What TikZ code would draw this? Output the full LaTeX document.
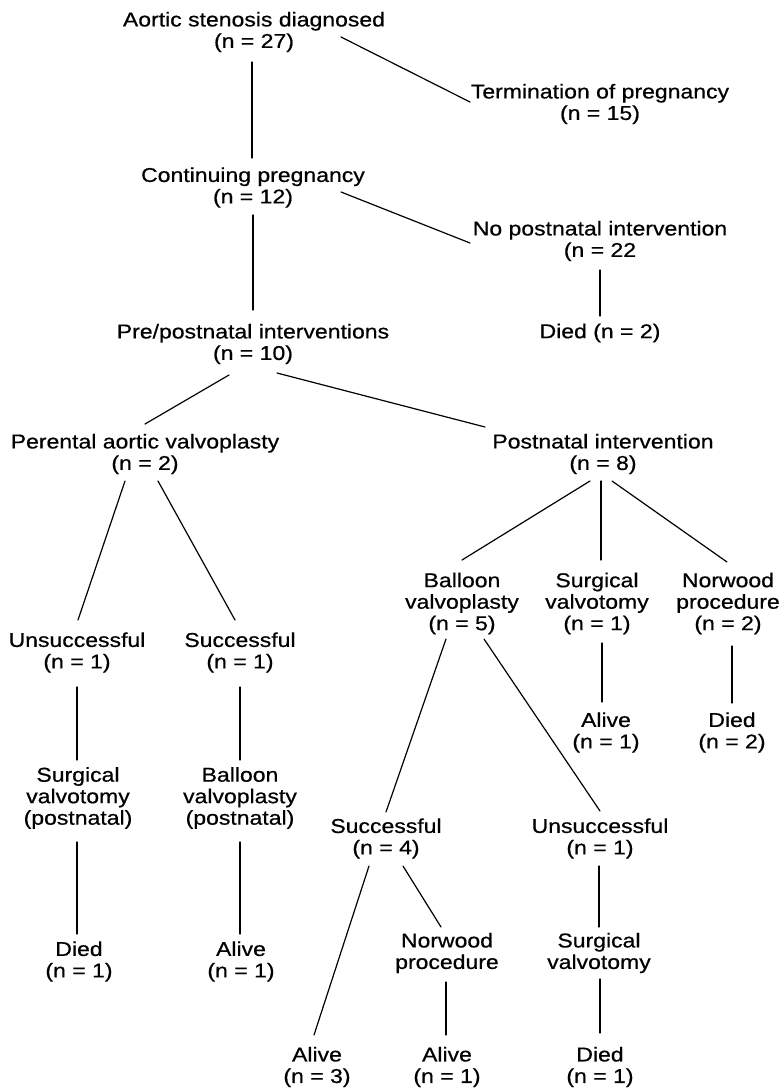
\documentclass[tikz,border=0pt]{standalone}
\usepackage{fontspec}
\newfontfamily\labfont{Liberation Sans}[FakeStretch=1.15,FakeBold=0.6]
\begin{document}
\begin{tikzpicture}[x=1pt,y=-1pt,
  lab/.style={align=center,inner sep=0pt,font=\labfont\fontsize{20}{21.5}\selectfont},
  conn/.style={line width=1.2pt,line cap=round}]
\useasboundingbox (0,0) rectangle (781,1088);
% nodes
\node[lab] (A) at (254,32) {Aortic stenosis diagnosed\\(n = 27)};
\node[lab] (T) at (600,104) {Termination of pregnancy\\(n = 15)};
\node[lab] (C) at (253,187.5) {Continuing pregnancy\\(n = 12)};
\node[lab] (N) at (600,241) {No postnatal intervention\\(n = 22};
\node[lab] (D) at (600,333) {Died (n = 2)};
\node[lab] (P) at (253,344) {Pre/postnatal interventions\\(n = 10)};
\node[lab] (PAV) at (145,454) {Perental aortic valvoplasty\\(n = 2)};
\node[lab] (PI) at (603,454) {Postnatal intervention\\(n = 8)};
\node[lab] (U1) at (77,652.5) {Unsuccessful\\(n = 1)};
\node[lab] (S1) at (240,652.5) {Successful\\(n = 1)};
\node[lab] (BV) at (462,603.5) {Balloon\\valvoplasty\\(n = 5)};
\node[lab] (SV) at (597,603.5) {Surgical\\valvotomy\\(n = 1)};
\node[lab] (NP) at (728,603.5) {Norwood\\procedure\\(n = 2)};
\node[lab] (A1) at (606,732.5) {Alive\\(n = 1)};
\node[lab] (D2) at (732,732.5) {Died\\(n = 2)};
\node[lab] (SVp) at (78,798) {Surgical\\valvotomy\\(postnatal)};
\node[lab] (BVp) at (240,798) {Balloon\\valvoplasty\\(postnatal)};
\node[lab] (S4) at (386,838.5) {Successful\\(n = 4)};
\node[lab] (U4) at (600,838.5) {Unsuccessful\\(n = 1)};
\node[lab] (Di1) at (79,961.5) {Died\\(n = 1)};
\node[lab] (Al1) at (241,961.5) {Alive\\(n = 1)};
\node[lab] (NP2) at (447,953) {Norwood\\procedure};
\node[lab] (SV2) at (599,953) {Surgical\\valvotomy};
\node[lab] (Al3) at (317,1067) {Alive\\(n = 3)};
\node[lab] (Al4) at (447,1067) {Alive\\(n = 1)};
\node[lab] (Di4) at (600,1067) {Died\\(n = 1)};
% connectors
\draw[conn] ([shift={(87,5)}]A.center) -- ([shift={(-130,-2)}]T.center);
\draw[conn] ([shift={(-2,30)}]A.center) -- ([shift={(-1,-29.5)}]C.center);
\draw[conn] ([shift={(88,4.5)}]C.center) -- ([shift={(-130,2)}]N.center);
\draw[conn] ([shift={(0,27.5)}]C.center) -- ([shift={(0,-34)}]P.center);
\draw[conn] ([shift={(0,29)}]N.center) -- ([shift={(0,-17)}]D.center);
\draw[conn] ([shift={(-24,31)}]P.center) -- ([shift={(0,-30)}]PAV.center);
\draw[conn] ([shift={(24,29)}]P.center) -- ([shift={(-118,-27)}]PI.center);
\draw[conn] ([shift={(-20,27)}]PAV.center) -- ([shift={(1,-32.5)}]U1.center);
\draw[conn] ([shift={(13,27)}]PAV.center) -- ([shift={(-5,-32.5)}]S1.center);
\draw[conn] ([shift={(0,34.5)}]U1.center) -- ([shift={(-1,-38)}]SVp.center);
\draw[conn] ([shift={(0,34.5)}]S1.center) -- ([shift={(0,-38)}]BVp.center);
\draw[conn] ([shift={(-1,44)}]SVp.center) -- ([shift={(-2,-27.5)}]Di1.center);
\draw[conn] ([shift={(0,44)}]BVp.center) -- ([shift={(-1,-27.5)}]Al1.center);
\draw[conn] ([shift={(-13,27)}]PI.center) -- ([shift={(0,-43.5)}]BV.center);
\draw[conn] ([shift={(-2,27)}]PI.center) -- ([shift={(4,-43.5)}]SV.center);
\draw[conn] ([shift={(9,27)}]PI.center) -- ([shift={(-1,-41.5)}]NP.center);
\draw[conn] ([shift={(-16,35.5)}]BV.center) -- ([shift={(0,-26.5)}]S4.center);
\draw[conn] ([shift={(22,35.5)}]BV.center) -- ([shift={(0,-27.5)}]U4.center);
\draw[conn] ([shift={(5,39.5)}]SV.center) -- ([shift={(-4,-30.5)}]A1.center);
\draw[conn] ([shift={(4,42.5)}]NP.center) -- ([shift={(0,-29.5)}]D2.center);
\draw[conn] ([shift={(-17,27.5)}]S4.center) -- ([shift={(-3,-32)}]Al3.center);
\draw[conn] ([shift={(17,27.5)}]S4.center) -- ([shift={(-6,-26)}]NP2.center);
\draw[conn] ([shift={(-1,27.5)}]U4.center) -- ([shift={(0,-26)}]SV2.center);
\draw[conn] ([shift={(-1,29)}]NP2.center) -- ([shift={(-1,-32)}]Al4.center);
\draw[conn] ([shift={(1,26)}]SV2.center) -- ([shift={(0,-34)}]Di4.center);
\end{tikzpicture}
\end{document}
